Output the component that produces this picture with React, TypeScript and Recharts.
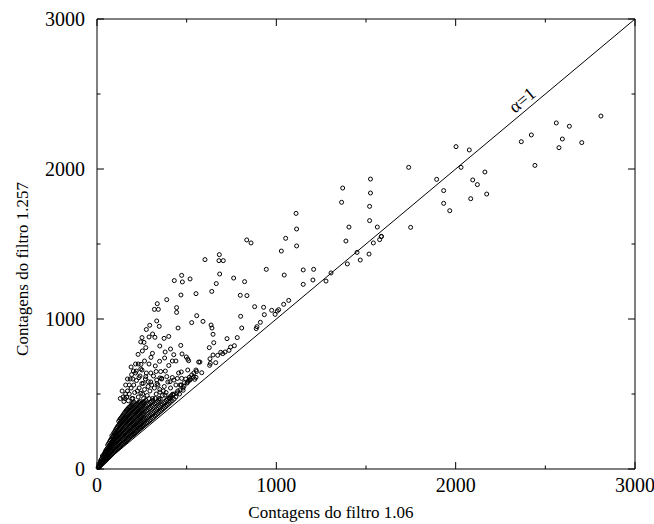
import React from 'react';
import {
  ScatterChart, Scatter, XAxis, YAxis, ReferenceLine, ReferenceArea, ReferenceDot,
} from 'recharts';

// tick values (minor ticks at 500s carry no label)
const xTicks = [0, 500, 1000, 1500, 2000, 2500, 3000];
const yTicks = [0, 500, 1000, 1500, 2000, 2500, 3000];

// counts: [filtro 1.06, filtro 1.257]
const sparsePoints = [
  [2810, 2353], [2561, 2307], [2634, 2285], [2422, 2227], [2366, 2182], [2595, 2200],
  [2576, 2142], [2703, 2176], [2442, 2024], [2002, 2149], [2076, 2127], [2030, 2011],
  [1894, 1931], [2163, 1980], [2095, 1927], [2121, 1896], [1933, 1856], [2173, 1833],
  [2084, 1802], [1933, 1771], [1967, 1722], [1738, 2011], [1749, 1611], [1585, 1549],
  [1364, 1778], [1370, 1873], [1525, 1933], [1525, 1840], [1520, 1751], [1520, 1656],
  [1405, 1613], [1563, 1613], [1388, 1520], [1541, 1507], [1586, 1551], [1576, 1529],
  [1450, 1444], [1517, 1433], [1468, 1393], [1396, 1367], [1305, 1307], [1277, 1253],
  [1208, 1331], [1150, 1327], [1204, 1260], [1150, 1231], [1110, 1704], [1113, 1600],
  [1052, 1538], [1113, 1487], [1028, 1453], [1044, 1293], [1041, 1098], [1069, 1124],
];

const midPoints = [
  [859, 1507], [835, 1527], [602, 1396], [682, 1429], [680, 1389], [704, 1389],
  [944, 1331], [684, 1300], [762, 1273], [665, 1236], [823, 1249], [640, 1184],
  [799, 1158], [836, 1156], [879, 1082], [929, 1078], [974, 1058], [1013, 1062],
  [1005, 1053], [993, 1031], [933, 1029], [911, 978], [892, 949], [888, 936],
  [801, 1018], [807, 940], [591, 984], [636, 960], [641, 940], [647, 898],
  [725, 869], [782, 876], [651, 842], [626, 809], [766, 822], [745, 813],
  [736, 791], [714, 780], [690, 778], [701, 769], [673, 758], [647, 760],
  [574, 713], [630, 735], [632, 704], [662, 709], [628, 691], [584, 642],
  [472, 1291], [431, 1256], [476, 1247], [519, 1267], [468, 1160], [552, 1169],
  [389, 1129], [336, 1102], [320, 1064], [342, 1064], [444, 1076], [444, 1044],
  [556, 1022], [528, 976], [333, 987], [294, 958], [347, 951], [452, 940],
  [323, 878], [374, 871], [400, 884], [251, 876], [244, 847], [262, 844],
  [272, 809], [253, 787], [229, 764], [467, 824], [309, 771], [301, 744],
  [428, 762], [474, 767], [498, 747], [506, 733], [511, 722], [377, 740],
  [349, 718], [325, 687], [245, 698], [244, 667], [203, 653], [219, 653],
  [251, 660], [381, 653], [470, 647], [506, 660], [567, 713], [193, 629],
  [234, 609], [272, 616], [351, 607], [389, 616], [472, 604], [515, 611],
  [537, 611], [552, 611],
  [150, 450], [165, 480], [170, 520], [180, 500], [190, 540], [200, 470],
  [205, 560], [210, 510], [220, 590], [230, 480], [235, 540], [245, 505],
  [250, 570], [260, 470], [265, 530], [270, 600], [280, 490], [285, 550],
  [295, 520], [300, 580], [310, 470], [315, 620], [320, 540], [330, 500],
  [335, 570], [345, 470], [350, 530], [360, 600], [365, 490], [375, 550],
  [385, 510], [395, 580], [405, 470], [410, 540], [420, 610], [430, 500],
  [440, 560], [450, 520], [455, 640], [470, 560], [480, 540], [495, 600],
  [505, 580], [520, 600], [540, 640], [555, 650], [185, 600], [215, 640],
  [160, 560], [140, 520], [130, 470], [275, 640], [240, 620],
  [258, 571], [286, 582], [305, 560], [333, 593], [361, 604], [407, 582],
  [429, 593], [448, 604], [463, 560], [487, 575], [511, 589], [528, 627],
  [351, 513], [379, 493], [407, 473], [424, 493], [446, 507], [463, 527],
  [485, 553], [502, 573], [519, 593], [552, 660], [440, 480], [460, 500],
  [480, 525], [545, 598],
  [155, 470], [175, 455], [195, 470], [225, 520], [255, 500], [290, 470],
  [325, 470], [340, 560], [370, 520], [300, 640], [330, 650], [290, 700],
  [265, 720], [215, 700], [200, 600], [180, 560], [160, 500], [145, 480],
  [170, 600], [190, 680], [230, 700], [355, 650], [400, 690], [420, 720],
  [380, 780], [350, 820], [410, 800], [440, 720], [290, 880], [275, 930],
  [310, 900],
];

const densePoints = [
  [6, 9], [9, 17], [14, 18], [15, 30], [17, 42],
  [24, 29], [26, 47], [23, 62],
  [33, 40], [36, 58], [34, 78], [37, 95],
  [44, 52], [46, 74], [43, 97], [47, 118],
  [54, 64], [56, 87], [53, 110], [57, 136],
  [64, 76], [66, 100], [63, 126], [67, 150], [65, 170],
  [74, 88], [76, 114], [73, 140], [77, 167], [75, 192],
  [84, 100], [86, 127], [83, 155], [87, 182], [85, 210],
  [94, 112], [96, 139], [93, 168], [97, 198], [95, 226], [98, 248],
  [104, 124], [106, 152], [103, 182], [107, 212], [105, 242], [108, 270],
  [114, 135], [116, 165], [113, 195], [117, 225], [115, 256], [118, 288],
  [124, 146], [126, 177], [123, 207], [127, 238], [125, 270], [128, 302], [126, 328],
  [134, 157], [136, 189], [133, 221], [137, 252], [135, 285], [138, 316], [136, 344],
  [144, 167], [146, 199], [143, 231], [147, 265], [145, 298], [148, 332], [146, 360],
  [154, 178], [156, 211], [153, 245], [157, 279], [155, 313], [158, 346], [156, 378],
  [164, 189], [166, 223], [163, 257], [167, 291], [165, 326], [168, 360], [166, 394],
  [174, 199], [176, 233], [173, 268], [177, 305], [175, 340], [178, 374], [176, 408],
  [184, 211], [186, 245], [183, 281], [187, 317], [185, 352], [188, 388], [186, 418],
  [194, 221], [196, 255], [193, 292], [197, 329], [195, 364], [198, 400], [196, 434],
  [204, 231], [206, 267], [203, 303], [207, 340], [205, 378], [208, 412], [206, 446],
  [214, 241], [216, 277], [213, 315], [217, 352], [215, 390], [218, 426],
  [224, 252], [226, 289], [223, 327], [227, 364], [225, 402], [228, 438],
  [234, 263], [236, 299], [233, 338], [237, 376], [235, 414], [238, 450],
  [244, 273], [246, 311], [243, 349], [247, 388], [245, 426],
  [254, 283], [256, 321], [253, 360], [257, 398], [255, 438],
  [264, 293], [266, 332], [263, 372], [267, 410], [265, 450],
  [279, 307], [281, 347], [278, 388], [282, 428],
  [294, 321], [296, 361], [293, 402], [297, 444],
  [309, 337], [311, 376], [308, 418], [312, 458],
  [324, 353], [326, 392], [323, 434],
  [339, 369], [341, 408], [338, 450],
  [354, 385], [356, 426], [353, 468],
  [369, 401], [371, 442],
  [384, 417], [386, 458],
  [399, 433], [401, 476],
  [419, 455], [421, 498],
];

// second pass over the dense wedge, between the columns above
const densePointsB = [
  [11, 22], [12, 13],
  [20, 24], [21, 38], [19, 52],
  [29, 35], [31, 52], [28, 70], [30, 86],
  [39, 46], [41, 66], [38, 88], [42, 106],
  [49, 58], [51, 80], [48, 104], [52, 128],
  [59, 70], [61, 94], [58, 118], [62, 144], [60, 160],
  [69, 82], [71, 107], [68, 133], [72, 158], [70, 182],
  [79, 94], [81, 120], [78, 148], [82, 175], [80, 201], [83, 222],
  [89, 106], [91, 133], [88, 162], [92, 190], [90, 218], [93, 240],
  [99, 118], [101, 146], [98, 176], [102, 205], [100, 234], [103, 260],
  [109, 129], [111, 158], [108, 189], [112, 218], [110, 249], [113, 280],
  [119, 140], [121, 171], [118, 201], [122, 232], [120, 263], [123, 295], [121, 318],
  [129, 151], [131, 183], [128, 214], [132, 245], [130, 278], [133, 309], [131, 336],
  [139, 162], [141, 194], [138, 226], [142, 259], [140, 292], [143, 324], [141, 352],
  [149, 172], [151, 205], [148, 238], [152, 272], [150, 306], [153, 339], [151, 370],
  [159, 183], [161, 217], [158, 251], [162, 285], [160, 320], [163, 353], [161, 386],
  [169, 194], [171, 228], [168, 262], [172, 298], [170, 333], [173, 367], [171, 400],
  [179, 205], [181, 239], [178, 275], [182, 311], [180, 346], [183, 381], [181, 413],
  [189, 216], [191, 250], [188, 286], [192, 323], [190, 358], [193, 394], [191, 426],
  [199, 226], [201, 261], [198, 298], [202, 334], [200, 371], [203, 406], [201, 440],
  [209, 236], [211, 272], [208, 309], [212, 346], [210, 384], [213, 420],
  [219, 247], [221, 283], [218, 321], [222, 358], [220, 396], [223, 432],
  [229, 257], [231, 294], [228, 332], [232, 370], [230, 408], [233, 444],
  [239, 268], [241, 305], [238, 344], [242, 382], [240, 420],
  [249, 278], [251, 316], [248, 354], [252, 393], [250, 432],
  [259, 288], [261, 327], [258, 366], [262, 404], [260, 444],
  [271, 300], [273, 340], [270, 380], [274, 420], [272, 458],
  [286, 314], [288, 354], [285, 395], [289, 436],
  [301, 329], [303, 369], [300, 410], [304, 451],
  [316, 345], [318, 384], [315, 426],
  [331, 361], [333, 400], [330, 442],
  [346, 377], [348, 417], [345, 459],
  [361, 393], [363, 434],
  [376, 409], [378, 450],
  [391, 425], [393, 467],
  [409, 444], [411, 487],
  [430, 466],
];

const points = [...densePoints, ...densePointsB, ...midPoints, ...sparsePoints].map(([x, y]) => ({ x, y }));

const FONT = '"Liberation Serif", "Times New Roman", serif';
const PLOT = { left: 97, right: 635, top: 19, bottom: 469 };
const TICK_FONT = 20;

function XTick({ x, payload }: any) {
  const v = payload.value;
  const major = v % 1000 === 0;
  const len = major ? 7 : 3.5;
  return (
    <g>
      <line x1={x} y1={PLOT.bottom} x2={x} y2={PLOT.bottom - len} stroke="#000" />
      <line x1={x} y1={PLOT.top} x2={x} y2={PLOT.top + len} stroke="#000" />
      {major && (
        <text x={x} y={PLOT.bottom + 23} textAnchor="middle" fontFamily={FONT} fontSize={TICK_FONT} fill="#000">
          {v}
        </text>
      )}
    </g>
  );
}

function YTick({ y, payload }: any) {
  const v = payload.value;
  const major = v % 1000 === 0;
  const len = major ? 7 : 3.5;
  return (
    <g>
      <line x1={PLOT.left} y1={y} x2={PLOT.left + len} y2={y} stroke="#000" />
      <line x1={PLOT.right} y1={y} x2={PLOT.right - len} y2={y} stroke="#000" />
      {major && (
        <text x={PLOT.left - 12} y={y + 7} textAnchor="end" fontFamily={FONT} fontSize={TICK_FONT} fill="#000">
          {v}
        </text>
      )}
    </g>
  );
}

const dot = (p: any) => (
  <circle cx={p.cx} cy={p.cy} r={2} fill="none" stroke="#000" strokeWidth={1} />
);

const alphaLabel = (p: any) => (
  <text
    transform={`translate(${p.cx},${p.cy}) rotate(-40)`}
    textAnchor="middle"
    dominantBaseline="central"
    fontFamily={FONT}
    fontSize={18}
    fill="#000"
  >
    α=1
  </text>
);

export default function App() {
  return (
    <div style={{ position: 'absolute', left: 0, top: 0, background: '#fff' }}>
      <ScatterChart width={654} height={524} margin={{ top: 19, right: 19, left: 0, bottom: 0 }}>
        <XAxis
          type="number"
          dataKey="x"
          domain={[0, 3000]}
          ticks={xTicks}
          interval={0}
          tickSize={0}
          tickMargin={0}
          tickLine={false}
          axisLine={false}
          height={55}
          tick={<XTick />}
          label={{
            content: () => (
              <text x={331} y={518} textAnchor="middle" fontFamily={FONT} fontSize={17} fill="#000">
                Contagens do filtro 1.06
              </text>
            ),
          }}
        />
        <YAxis
          type="number"
          dataKey="y"
          domain={[0, 3000]}
          ticks={yTicks}
          interval={0}
          tickSize={0}
          tickMargin={0}
          tickLine={false}
          axisLine={false}
          width={97}
          tick={<YTick />}
          label={{
            content: () => (
              <text
                transform="translate(28,269) rotate(-90)"
                textAnchor="middle"
                fontFamily={FONT}
                fontSize={17}
                fill="#000"
              >
                Contagens do filtro 1.257
              </text>
            ),
          }}
        />
        <ReferenceArea x1={0} x2={3000} y1={0} y2={3000} fill="none" stroke="#000" strokeWidth={1} />
        <ReferenceLine
          segment={[{ x: 0, y: 0 }, { x: 3000, y: 3000 }]}
          stroke="#000"
          strokeWidth={1}
        />
        <ReferenceDot x={2370} y={2460} r={0} shape={alphaLabel} />
        <Scatter data={points} shape={dot} isAnimationActive={false} />
      </ScatterChart>
    </div>
  );
}
